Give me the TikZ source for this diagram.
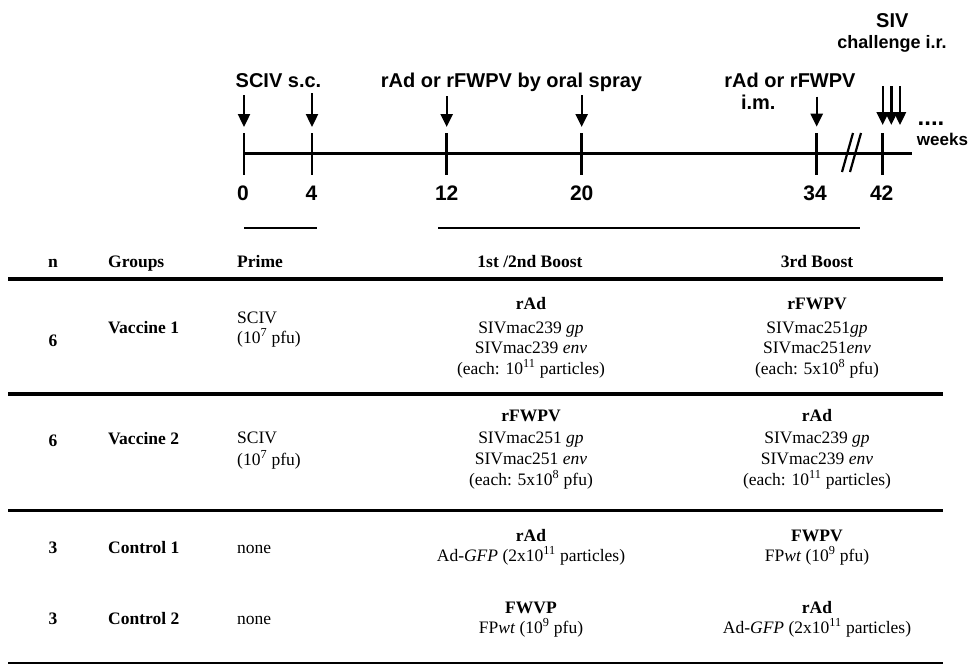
\documentclass[tikz,border=0pt]{standalone}
\usepackage{fontspec}
\setmainfont{Liberation Serif}
\newfontfamily\arialf{Liberation Sans}
\usetikzlibrary{arrows.meta}
\begin{document}
\begin{tikzpicture}[x=1pt,y=-1pt,
  tl/.style={font=\arialf\bfseries\fontsize{20}{24}\selectfont, anchor=base, inner sep=0pt},
  tls/.style={font=\arialf\bfseries\fontsize{18}{22}\selectfont, anchor=base, inner sep=0pt},
  num/.style={font=\arialf\bfseries\fontsize{21}{25}\selectfont, anchor=base, inner sep=0pt},
  cell/.style={font=\fontsize{17.5}{21}\selectfont, anchor=base, inner sep=0pt},
  cellb/.style={font=\bfseries\fontsize{17.5}{21}\selectfont, anchor=base, inner sep=0pt},
  axisline/.style={line width=2.6pt},
  arr/.style={line width=2.4pt, -{Triangle[width=12pt,length=13pt]}},
  tablerule/.style={line width=3.5pt},
  underl/.style={line width=2.2pt},
]
\useasboundingbox (0,0) rectangle (970,664);

% ---------- timeline ----------
\coordinate (tlS) at (244,153.3);
\coordinate (tlE) at (911.7,153.3);
\draw[axisline] (tlS) -- (tlE);
\foreach \x/\n in {244/t0,312/t4,446.7/t12,581.7/t20,816.7/t34,882.7/t42}{
  \coordinate (\n top) at (\x,133.3);
  \coordinate (\n bot) at (\x,175);
  \draw[axisline] (\n top) -- (\n bot);
}
% break mark
\coordinate (b1a) at (842,172); \coordinate (b1b) at (853,133);
\coordinate (b2a) at (850,172); \coordinate (b2b) at (861,133);
\draw[line width=2.2pt] (b1a) -- (b1b);
\draw[line width=2.2pt] (b2a) -- (b2b);

% arrows
\foreach \x/\n/\ys/\ye in {244/a0/95/127,312/a4/93/127,446.7/a12/96/127,581.7/a20/95/127,816.7/a34/96.7/126.7,882.7/aA/86/125,891.3/aB/86/125,900/aC/86/125}{
  \coordinate (\n s) at (\x,\ys);
  \coordinate (\n e) at (\x,\ye);
  \draw[arr] (\n s) -- (\n e);
}

% timeline labels
\node[tl] (lsciv) at (278.5,87) {SCIV s.c.};
\node[tl] (loral) at (511.5,87) {rAd or rFWPV by oral spray};
\node[tl] (lim1) at (790,87) {rAd or rFWPV};
\node[tl] (lim2) at (758.3,109) {i.m.};
\node[tl] (lsiv) at (892.3,27) {SIV};
\node[tls] (lchal) at (892,48) {challenge i.r.};
\node[font=\arialf\bfseries\fontsize{24}{26}\selectfont, anchor=base, inner sep=0pt] (ldots) at (931,125) {....};
\node[font=\arialf\bfseries\fontsize{17}{20}\selectfont, anchor=base, inner sep=0pt] (lweeks) at (942.5,145) {weeks};

\node[num] (n0) at (243,200.5) {0};
\node[num] (n4) at (311.5,200.5) {4};
\node[num] (n12) at (446.7,200.5) {12};
\node[num] (n20) at (581.7,200.5) {20};
\node[num] (n34) at (815,200.5) {34};
\node[num] (n42) at (881.7,200.5) {42};

\coordinate (u1a) at (244.3,227.7); \coordinate (u1b) at (316.7,227.7);
\coordinate (u2a) at (438.3,227.7); \coordinate (u2b) at (860,227.7);
\draw[underl] (u1a) -- (u1b);
\draw[underl] (u2a) -- (u2b);

% ---------- table ----------
\node[cellb] (hn) at (53,267) {n};
\node[cellb, anchor=base west] (hg) at (108,267) {Groups};
\node[cellb, anchor=base west] (hp) at (237,267) {Prime};
\node[cellb] (hb1) at (530,267) {1st /2nd Boost};
\node[cellb] (hb3) at (817,267) {3rd Boost};

\foreach \y/\n in {279/r1,394/r2,510.7/r3,663.5/r4}{
  \coordinate (\n a) at (8,\y);
  \coordinate (\n b) at (943,\y);
  \draw[tablerule] (\n a) -- (\n b);
}

% row 1
\node[cellb] (v1n) at (53,346) {6};
\node[cellb, anchor=base west] (v1g) at (108,333) {Vaccine 1};
\node[cell, anchor=base west] (v1p1) at (237,323) {SCIV};
\node[cell, anchor=base west] (v1p2) at (237,343) {(10\textsuperscript{7} pfu)};
\node[cellb] (v1a1) at (531,309) {rAd};
\node[cell] (v1a2) at (531,333) {SIVmac239 \textit{gp}};
\node[cell] (v1a3) at (531,353) {SIVmac239 \textit{env}};
\node[cell] (v1a4) at (531,374) {(each: 10\textsuperscript{11} particles)};
\node[cellb] (v1b1) at (817,309) {rFWPV};
\node[cell] (v1b2) at (817,333) {SIVmac251\textit{gp}};
\node[cell] (v1b3) at (817,353) {SIVmac251\textit{env}};
\node[cell] (v1b4) at (817,374) {(each: 5x10\textsuperscript{8} pfu)};

% row 2
\node[cellb] (v2n) at (53,446) {6};
\node[cellb, anchor=base west] (v2g) at (108,444) {Vaccine 2};
\node[cell, anchor=base west] (v2p1) at (237,443) {SCIV};
\node[cell, anchor=base west] (v2p2) at (237,465) {(10\textsuperscript{7} pfu)};
\node[cellb] (v2a1) at (531,421) {rFWPV};
\node[cell] (v2a2) at (531,443) {SIVmac251 \textit{gp}};
\node[cell] (v2a3) at (531,464) {SIVmac251 \textit{env}};
\node[cell] (v2a4) at (531,485) {(each: 5x10\textsuperscript{8} pfu)};
\node[cellb] (v2b1) at (817,421) {rAd};
\node[cell] (v2b2) at (817,443) {SIVmac239 \textit{gp}};
\node[cell] (v2b3) at (817,464) {SIVmac239 \textit{env}};
\node[cell] (v2b4) at (817,485) {(each: 10\textsuperscript{11} particles)};

% row 3
\node[cellb] (c1n) at (53,553) {3};
\node[cellb, anchor=base west] (c1g) at (108,553) {Control 1};
\node[cell, anchor=base west] (c1p) at (237,553) {none};
\node[cellb] (c1a1) at (531,541) {rAd};
\node[cell] (c1a2) at (531,561) {Ad-\textit{GFP} (2x10\textsuperscript{11} particles)};
\node[cellb] (c1b1) at (817,541) {FWPV};
\node[cell] (c1b2) at (817,561) {FP\textit{wt} (10\textsuperscript{9} pfu)};

% row 4
\node[cellb] (c2n) at (53,624) {3};
\node[cellb, anchor=base west] (c2g) at (108,624) {Control 2};
\node[cell, anchor=base west] (c2p) at (237,624) {none};
\node[cellb] (c2a1) at (531,613) {FWVP};
\node[cell] (c2a2) at (531,633) {FP\textit{wt} (10\textsuperscript{9} pfu)};
\node[cellb] (c2b1) at (817,613) {rAd};
\node[cell] (c2b2) at (817,633) {Ad-\textit{GFP} (2x10\textsuperscript{11} particles)};
\end{tikzpicture}
\end{document}
